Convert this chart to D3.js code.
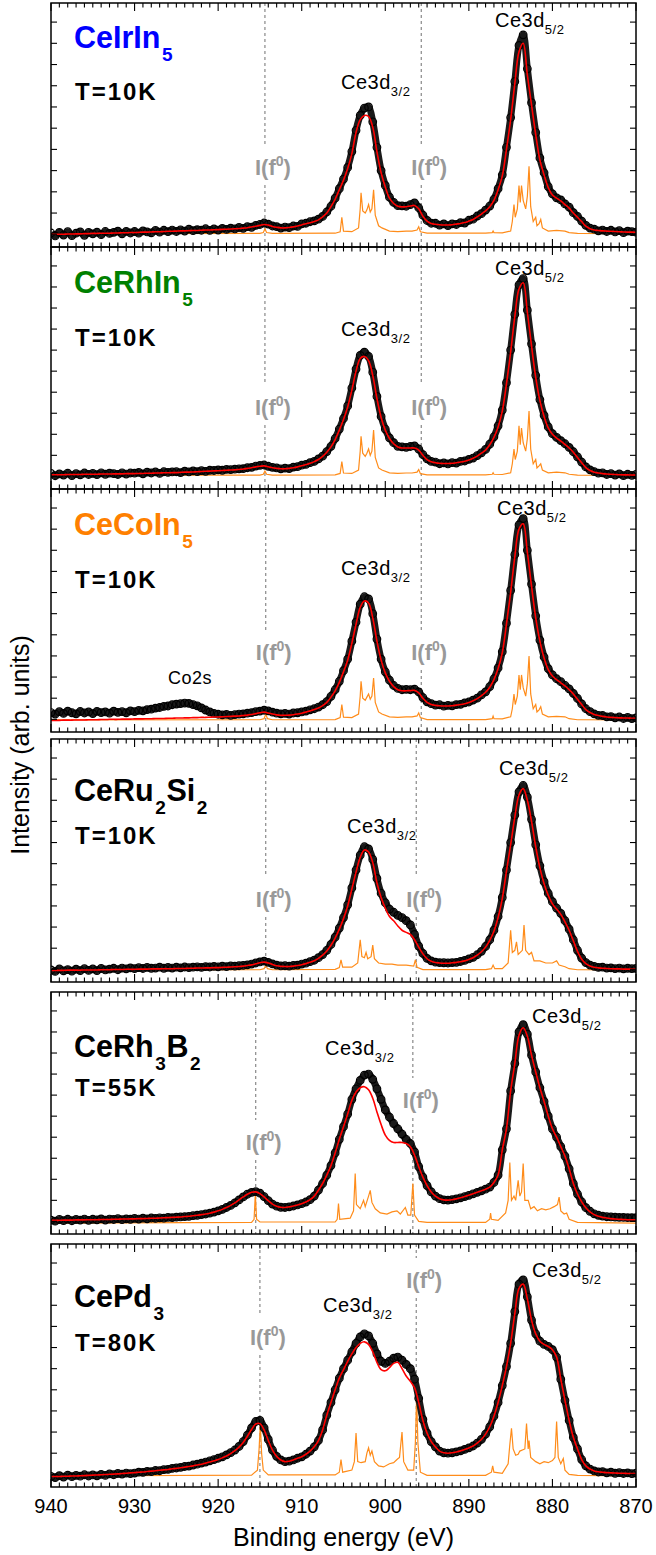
<!DOCTYPE html>
<html><head><meta charset="utf-8">
<script src="https://cdn.jsdelivr.net/npm/d3@7"></script>
<style>body{margin:0;background:#fff}svg{display:block}text{font-family:"Liberation Sans",Arial,sans-serif}</style>
</head><body><div id="chart"></div>
<script>
// ---------------- DATA ----------------
// binding-energy grid of the measured/fitted curves: 940 eV down to 870 eV, 0.5 eV step
const eStart = 940, eStep = 0.5, nPts = 141;
const xTickLabels = [940, 930, 920, 910, 900, 890, 880, 870];

const compounds = ["CeIrIn_5", "CeRhIn_5", "CeCoIn_5", "CeRu_2Si_2", "CeRh_3B_2", "CePd_3"];
const temps = ["T=10K", "T=10K", "T=10K", "T=10K", "T=55K", "T=80K"];
// I(f0) marker energies (eV) per panel [left, right]
const f0Energies = [[914.4, 895.7], [914.4, 895.7], [914.3, 895.7], [914.3, 896.3], [915.5, 896.7], [915.0, 896.3]];

// measured intensities (arb. units), panel by panel
const data1 = [0.6,-0.8,0.9,-0.4,1.2,-0.6,0.5,1.1,-0.5,0.9, 0.2,1.0,-0.2,1.3,0.4,0.9,1.5,0.2,1.4,0.6, 1.3,0.5,1.6,1.1,0.7,1.8,1.0,1.9,1.2,2.0, 1.3,2.1,1.5,2.4,1.7,2.2,1.9,2.6,1.8,2.5, 2.0,2.8,2.3,2.9,2.5,3.2,2.8,3.6,3.3,4.2, 4.6,5.3,4.8,3.9,3.6,2.9,3.4,3.1,3.9,3.7, 4.9,5.2,5.9,6.3,7.1,8.4,10.5,13.2,17,21.5, 26,31.5,39,49,56,59.5,60,53,41,30, 23,17.5,15,13.5,13.4,13.2,14,14.8,12.5,9, 6.5,5.2,5.2,4.3,4.9,4.1,4.9,4.6,5.5,5.3, 6.6,7.1,8.6,9.7,11.4,13.3,16.5,21.5,28,41, 55,72,89,94,78,62,48,36,29,22.5, 19,17.2,16.2,14.3,12.8,10.2,8.4,6.2,4.2,2.9, 2.4,1.6,2.0,1.3,1.9,1.1,1.7,0.8,1.5,1.2, 1.0];
const data2 = [1.4,0.3,1.2,0.6,1.5,0.4,1.3,0.7,1.6,0.9, 1.4,0.8,1.7,1.0,1.5,1.3,0.9,1.7,1.1,1.6, 1.5,1.9,1.2,2.0,1.6,2.1,1.4,2.2,1.9,2.1, 2.2,1.8,2.5,2.1,2.6,2.3,2.7,2.4,2.9,2.8, 3.1,2.9,3.3,3.2,3.4,3.6,3.7,4.1,4.3,4.9, 5.2,5.4,4.8,4.3,4.0,3.6,3.9,3.7,4.4,4.6, 5.3,5.7,6.5,7.1,8.3,9.6,11.8,14.3,18,22.5, 27.5,33.5,42,51,57.5,59,57,49.5,38,28.5, 22.5,18.3,16,14.3,14,13.8,14.2,14.5,13,10.3, 8.3,7.1,6.8,6.0,6.4,5.9,6.5,6.3,7.1,7.3, 8.1,8.7,9.9,11.2,12.8,15.3,18.8,24,31.5,44.5, 60,77,91,94,79,63,48,36.5,29,23.5, 20.3,18.5,17,15.5,13.8,11.7,9.3,6.8,4.5,3.1, 2.3,1.5,1.7,0.9,1.3,0.6,1.2,0.4,1.0,0.5, 0.9];
const data3 = [3.2,2.5,3.6,2.8,3.9,3.1,2.6,3.7,3.0,3.5, 2.7,3.8,3.2,3.5,2.9,3.9,3.3,3.6,3.1,4.0, 3.6,4.2,4.0,4.6,4.8,5.3,5.6,6.1,6.3,6.9, 7.2,7.4,7.7,7.5,7.0,6.4,5.4,4.4,3.5,2.8, 2.4,2.1,2.3,1.9,2.2,2.5,2.6,2.9,3.2,3.6, 3.9,4.3,4.0,3.4,2.9,2.6,2.8,2.5,3.0,3.1, 3.5,3.9,4.5,5.0,5.8,6.9,8.4,10.9,14,18, 23,28.5,37,46,54.5,58,57,50,38,28.5, 22.5,18.5,16,14.6,14,14.2,14.0,14.3,13,10.3, 8.3,7.4,6.7,6.9,6.2,6.6,6.4,7.0,7.1,7.8, 8.2,9.1,10,11.6,13,15.5,19.2,24.3,32,45.5, 61,78,92,95,80,64,49,37.5,29.5,24, 21,19.2,17.8,16.1,14.4,12.3,9.9,7.3,5,3.6, 2.6,1.9,1.8,1.2,1.3,0.7,1.1,0.4,0.9,0.3, 0.7];
const data4 = [-0.3,-1.0,0.2,-0.7,-0.1,-0.9,0.1,-0.6,0.3,-0.5, 0.2,-0.6,0.4,-0.3,0.1,0.5,-0.2,0.6,0.2,0.7, 0.3,0.8,0.4,0.9,0.5,0.6,1.0,0.5,0.9,0.6, 1.0,0.7,1.1,0.8,1.0,1.2,0.9,1.3,1.1,1.4, 1.2,1.5,1.3,1.6,1.5,1.7,1.9,2.1,2.5,3.0, 3.5,3.9,3.3,2.6,2.0,1.6,1.7,1.5,1.9,2.0, 2.5,2.9,3.6,4.3,5.5,7,9,11.8,15.2,19.5, 24.5,30.5,38.5,47,54,58,57,52,43,36, 31.5,28.5,27,25.5,24.5,23,21,16.5,11,7.5, 5.2,4.0,3.4,3.2,3.1,3.0,3.2,3.3,3.7,4.2, 4.9,5.7,6.9,8.5,10.8,14,18.5,25,34,47, 60,73,84,87,81.5,71,59,49,41.5,36, 32,29,26.5,23,19,14,9,5.3,3.2,2.0, 1.4,0.9,1.0,0.6,0.7,0.3,0.6,0.2,0.5,0.3, 0.4];
const data5 = [0.6,0.1,0.9,0.4,1.0,0.3,0.9,0.6,1.1,0.5, 1.0,0.7,1.2,0.6,1.1,0.9,1.3,0.8,1.2,1.0, 1.4,1.1,1.5,1.2,1.6,1.4,1.7,1.5,1.9,1.8, 2.0,2.1,2.3,2.4,2.7,2.9,3.2,3.5,3.9,4.4, 5.0,5.7,6.6,7.6,8.8,10.2,11.6,12.9,13.8,14.1, 13.4,11.8,9.9,8.2,7.2,6.7,6.6,6.9,7.3,7.8, 8.4,9.2,10.3,12,14.8,18,22,26.5,32.5,39, 45,51,58,63,67,69.5,70,67.5,63,58, 53,49.5,46.5,44,41.5,39,37,33,26,21, 17,14,12,10.8,10.2,10.1,10.3,10.7,11.2,11.8, 12.4,13.1,13.8,14.5,15.3,16.3,18.5,22,34,44, 62,75,90,93.5,89,79,71,63.5,57,50, 44,40,35.5,31,25,18,13,9.3,6.5,4.8, 3.6,2.9,2.5,2.2,2.1,2.0,1.9,1.9,1.8,1.8, 1.8];
const data6 = [-1.0,-1.6,-0.6,-1.3,-0.4,-1.1,-0.5,-0.9,-0.2,-0.8, -0.3,-0.7,0.0,-0.5,0.2,-0.2,0.4,0.1,0.6,0.3, 0.6,1.0,0.9,1.4,1.3,1.8,1.7,2.2,2.3,2.8, 3.0,3.3,3.7,3.9,4.4,4.8,5.3,5.8,6.4,7.0, 7.6,8.3,9.2,10.3,11.5,13.2,15.5,18.5,22,25, 25.5,22,16.5,11.5,8.5,6.8,6.0,6.2,6.8,7.6, 8.3,9.5,11,13,16,21,28,34,40,45.5, 50,54,58,62,65,66.5,65.5,62,57,53.5, 52.5,53.5,55,55.5,54,52,50,45,36,26, 19.5,15.5,13,11,10.2,10,10.2,10.6,11.1,11.8, 12.5,13.4,14.8,16.5,19,22.5,27.5,34,42,51, 62,77,90,92,84,73,66.5,63,61.5,60.5, 59,55.5,45,35,25.5,17.5,12,7,4,2.5, 1.6,1.1,1.3,0.7,1.0,0.5,0.8,0.4,0.7,0.3, 0.6];

// fitted spectra (red)
const fit1 = [0,0,0,0,0.1,0.1,0.2,0.2,0.3,0.3, 0.4,0.4,0.5,0.5,0.5,0.6,0.6,0.7,0.7,0.8, 0.8,0.9,1.0,1.0,1.1,1.2,1.2,1.3,1.4,1.4, 1.5,1.6,1.6,1.7,1.8,1.8,1.9,2.0,2.0,2.1, 2.2,2.3,2.4,2.5,2.6,2.7,2.9,3.1,3.4,3.8, 4.2,4.6,4.3,3.7,3.3,3.0,3.0,3.2,3.5,3.9, 4.4,5.0,5.4,6.0,6.8,8.2,10,13,16.5,21, 25.5,31,38,48,54,56,55.5,50.5,39,29, 22.3,17,14.5,13.2,12.9,13,13.3,13.6,12,8.5, 6.2,5.1,4.7,4.5,4.4,4.4,4.5,4.8,5.1,5.5, 6.2,7.0,8.2,9.5,11,13,16,21,27.5,40, 54,71,86,90,75,61,47,35,28,22, 18.5,17,15.7,14,12.3,10,8,6,3.8,2.6, 2.0,1.8,1.6,1.5,1.4,1.3,1.2,1.1,1.0,1.0, 0.9];
const fit2 = [0.8,0.8,0.8,0.8,0.9,0.9,0.9,0.9,1.0,1.0, 1.0,1.0,1.1,1.1,1.1,1.2,1.2,1.2,1.3,1.3, 1.3,1.4,1.4,1.5,1.5,1.6,1.6,1.7,1.7,1.8, 1.8,1.9,2.0,2.0,2.1,2.2,2.3,2.4,2.5,2.6, 2.7,2.8,2.9,3.0,3.1,3.3,3.5,3.8,4.1,4.5, 4.8,5.0,4.6,4.1,3.8,3.6,3.6,3.8,4.1,4.5, 5.0,5.6,6.2,7.0,8.0,9.5,11.5,14,17.5,22, 27,33,41,50,56,57,55,48,37,28, 22,18,15.5,14,13.5,13.5,13.5,13.5,12.5,10, 8,7,6.5,6.2,6.1,6.1,6.2,6.5,6.8,7.2, 7.8,8.6,9.6,11,12.5,15,18.5,23.5,31,44, 59,76,89,92,78,62,47,36,28.5,23, 20,18.2,16.8,15.2,13.5,11.5,9,6.5,4.2,2.8, 2.0,1.6,1.3,1.1,1.0,0.9,0.8,0.7,0.7,0.6, 0.6];
const fit3 = [-0.5,-0.5,-0.5,-0.4,-0.4,-0.4,-0.3,-0.3,-0.3,-0.2, -0.2,-0.2,-0.1,-0.1,0,0,0,0.1,0.1,0.1, 0.2,0.2,0.2,0.3,0.3,0.4,0.4,0.4,0.5,0.5, 0.6,0.6,0.7,0.7,0.8,0.8,0.9,0.9,1.0,1.1, 1.1,1.2,1.3,1.4,1.5,1.6,1.8,2.0,2.3,2.7, 3.1,3.4,3.0,2.5,2.1,1.9,1.9,2.0,2.2,2.5, 2.9,3.4,4.0,4.6,5.4,6.5,8,10.5,13.5,17.5, 22.5,28,36,45,53,56,55,48,37,28, 22,18,15.5,14,13.5,13.5,13.6,13.7,12.5,10, 8,7,6.6,6.4,6.3,6.3,6.4,6.7,7.0,7.4, 8,8.8,9.8,11.2,12.8,15.2,18.8,24,31.5,45, 60,77,90,92.5,79,63,48,37,29,23.5, 20.5,18.8,17.3,15.8,14,12,9.5,7,4.6,3.2, 2.3,1.8,1.4,1.1,0.9,0.8,0.7,0.6,0.6,0.5, 0.5];
const fit4 = [-0.5,-0.5,-0.5,-0.5,-0.4,-0.4,-0.4,-0.4,-0.3,-0.3, -0.3,-0.3,-0.2,-0.2,-0.2,-0.1,-0.1,-0.1,0,0, 0,0.1,0.1,0.1,0.2,0.2,0.2,0.3,0.3,0.3, 0.4,0.4,0.4,0.5,0.5,0.6,0.6,0.7,0.7,0.8, 0.8,0.9,1.0,1.1,1.2,1.3,1.5,1.8,2.1,2.6, 3.1,3.4,3.0,2.3,1.7,1.4,1.3,1.3,1.5,1.8, 2.2,2.7,3.3,4.1,5.2,6.7,8.7,11.4,14.8,19, 24,30,38,46,53,56.5,55.5,50.5,41,34, 29,25,23,20.5,18.5,17.5,16.5,14,10.5,7.3, 5,3.8,3.2,3.0,2.9,2.9,3.1,3.3,3.6,4.0, 4.7,5.5,6.7,8.3,10.5,13.7,18,24.5,33.5,46.5, 59,72,82.5,85.5,80,70,58,48,40.5,35, 31,28.5,26,22.5,18.5,13.5,8.5,4.8,2.7,1.6, 1.0,0.7,0.5,0.4,0.3,0.2,0.2,0.1,0.1,0.1, 0.1];
const fit5 = [0.5,0.5,0.5,0.6,0.6,0.6,0.7,0.7,0.7,0.8, 0.8,0.8,0.9,0.9,0.9,1.0,1.0,1.1,1.1,1.2, 1.2,1.3,1.3,1.4,1.5,1.5,1.6,1.7,1.8,1.9, 2.0,2.1,2.3,2.4,2.7,2.9,3.2,3.5,3.9,4.4, 5.0,5.7,6.6,7.6,8.8,10.2,11.6,12.9,13.8,14.0, 13.2,11.6,9.8,8.2,7.2,6.7,6.6,6.9,7.3,7.8, 8.4,9.2,10.3,12,14.8,18,22,26.5,32.5,39, 45,51,57.5,61.5,63.5,64,62.5,58.5,52,46, 41,38.5,37.5,37.5,37.5,37,35.5,31.5,26,21, 17,14,12,10.8,10.2,10.1,10.3,10.7,11.2,11.8, 12.4,13.1,13.8,14.5,15.3,16.3,18.5,22,34,44, 62,75,88.5,92,88,79,71,63.5,57,50, 44,40,35.5,31,25,18,13,9.3,6.5,4.5, 3.2,2.4,1.9,1.6,1.3,1.1,1.0,0.9,0.8,0.8, 0.8];
const fit6 = [-1.0,-1.0,-1.0,-0.9,-0.9,-0.8,-0.8,-0.7,-0.6,-0.5, -0.4,-0.3,-0.2,-0.1,0.0,0.1,0.2,0.4,0.5,0.7, 0.8,1.0,1.1,1.3,1.5,1.7,1.9,2.1,2.3,2.6, 2.8,3.1,3.4,3.7,4.0,4.4,4.8,5.3,5.8,6.4, 7.0,7.8,8.7,9.8,11.2,12.9,15.1,18,21.2,23.8, 24,21,16,11.5,8.5,6.8,6.0,6.2,6.8,7.6, 8.3,9.5,11,13,16,21,28,34,40,45.5, 49.5,53.5,57,60,62,62.7,61.5,58,53,49.5, 49,50.5,52.5,53,50,46.5,44,41,34,25.5, 19.5,15.5,13,11,10.2,10,10.2,10.6,11.1,11.8, 12.5,13.4,14.8,16.5,19,22.5,27.5,34,42,51, 62,76,88,90,83,73,66.5,63,61.5,60.5, 59,55.5,45,35,25.5,17.5,12,7,4,2.5, 1.6,1.2,1.0,0.8,0.7,0.6,0.5,0.5,0.4,0.4, 0.4];

// calculated multiplet spectra (orange): [binding energy, intensity]
const multi1 = [[940,0.3],[915,0.4],[914.6,0.8],[914.4,2.5],[914.2,0.8],[913.5,0.4],[906,0.5],[905.4,1.2],[905.2,8],[905.0,1.5],[904,1.2],[903.2,3],[903.0,12],[902.9,19.5],[902.7,11],[902.4,10],[902.2,11.5],[902.0,14],[901.8,10.5],[901.6,12],[901.4,21],[901.2,9],[900.8,4],[900.4,3],[899.5,1.5],[898.5,1.2],[897.5,1.5],[896.8,1.5],[896.2,2],[896.0,3.5],[895.8,1.2],[895,0.5],[888,0.5],[887.2,0.8],[887.1,1.5],[887.0,0.8],[886,0.7],[885,1.5],[884.8,6],[884.6,14],[884.45,8],[884.2,12],[884.0,23],[883.85,15],[883.7,23],[883.5,16],[883.2,12],[883.0,18],[882.8,32],[882.6,13],[882.3,6],[882.0,8],[881.85,4],[881.6,5],[881.4,7],[881.2,3],[880.5,1.5],[879.5,1.8],[878.5,1.5],[878,0.8],[877,0.4],[870,0.3]];
const multi2 = [[940,0.6],[915,0.6],[914.6,1.0],[914.4,2.5],[914.2,1.0],[913.5,0.6],[906,0.7],[905.4,1.4],[905.2,7],[905.0,1.6],[904,1.4],[903.2,3],[903.0,12],[902.9,19],[902.7,11],[902.4,9.5],[902.2,11],[902.0,13],[901.8,10],[901.6,12],[901.4,22],[901.2,9],[900.8,4],[900.4,3],[899.5,1.7],[898.5,1.4],[897.5,1.6],[896.8,1.6],[896.2,2],[896.0,3.2],[895.8,1.3],[895,0.7],[888,0.7],[887.2,1.0],[887.1,1.7],[887.0,1.0],[886,0.9],[885,1.7],[884.8,6],[884.6,13],[884.45,8],[884.2,12],[884.0,24],[883.85,15],[883.7,23],[883.5,16],[883.2,12],[883.0,18],[882.8,31],[882.6,13],[882.3,6],[882.0,8],[881.85,4],[881.6,5],[881.4,6],[881.2,3],[880.5,1.7],[879.5,2],[878.5,1.7],[878,1.0],[877,0.6],[870,0.5]];
const multi3 = [[940,-0.3],[915,-0.2],[914.5,0.3],[914.3,2.5],[914.1,0.3],[913.5,-0.2],[906,-0.1],[905.4,0.8],[905.2,7],[905.0,1.0],[904,0.8],[903.2,2.5],[903.0,11],[902.9,18],[902.7,10],[902.4,9],[902.2,10.5],[902.0,12],[901.8,9.5],[901.6,11],[901.4,19.5],[901.2,8],[900.8,3.5],[900.4,2.5],[899.5,1.2],[898.5,0.9],[897.5,1.2],[896.8,1.2],[896.2,1.6],[896.0,3],[895.8,0.8],[895,-0.1],[888,-0.1],[887.2,0.3],[887.1,1.5],[887.0,0.3],[886,0.2],[885,1.2],[884.8,5],[884.6,12],[884.45,7],[884.2,11],[884.0,21],[883.85,14],[883.7,21],[883.5,15],[883.2,11],[883.0,17],[882.8,30],[882.6,12],[882.3,5],[882.0,7],[881.85,3.5],[881.6,4.5],[881.4,6],[881.2,2.5],[880.5,1.2],[879.5,1.4],[878.5,1.2],[878,0.3],[877,-0.2],[870,-0.3]];
const multi4 = [[940,-0.3],[915,-0.2],[914.5,0.3],[914.3,2],[914.1,0.3],[913.5,-0.2],[906,0],[905.5,0.8],[905.3,4.5],[905.1,1.0],[904,1.0],[903.3,3],[903.0,14],[902.8,6],[902.5,5.5],[902.3,8],[902.1,5],[901.7,6],[901.5,11.5],[901.3,5],[900.8,3],[900,2.5],[899.2,2.5],[898.5,2],[897.5,2],[896.6,1.5],[896.4,4.5],[896.2,1],[895.5,-0.1],[888,-0.1],[887.3,0.3],[887.1,2],[886.9,0.3],[886,0.3],[885.3,3],[885.0,18.5],[884.8,8],[884.5,9],[884.3,13],[884.1,7],[883.6,9],[883.4,21],[883.2,9],[882.8,7],[882.5,8],[882.2,4],[881.5,4],[880.8,3],[880.0,3],[879.5,4],[879.2,2],[878.5,1.2],[878,0.3],[877,-0.2],[870,-0.3]];
const multi5 = [[940,-0.8],[916.0,-0.5],[915.7,1],[915.55,13],[915.4,1],[915,-0.3],[906,-0.3],[905.75,1],[905.6,8.5],[905.45,1],[904.2,1.5],[903.8,5],[903.6,22.7],[903.45,8],[903.0,6],[902.6,10],[902.4,7],[902.0,12],[901.8,14.7],[901.6,9],[901.2,6],[900.6,4],[899.8,3.5],[899.2,4.5],[898.6,5],[898.2,3.5],[897.6,6.6],[897.3,3],[896.95,3],[896.7,18],[896.5,3],[896,0],[895,-0.5],[888,-0.5],[887.5,1],[887.4,4],[887.3,1],[886.5,0.5],[885.6,4],[885.3,10],[885.1,28],[884.9,10],[884.6,12],[884.4,10],[884.1,19.5],[883.9,12],[883.7,14],[883.5,27.5],[883.3,10],[882.9,10],[882.6,6],[882.2,7],[881.8,5],[881.3,6],[880.8,5.5],[880.3,6],[879.8,7],[879.4,8],[879.2,11.5],[879.0,5],[878.6,3.5],[878.3,4],[878.0,1],[877,-0.5],[870,-0.8]];
const multi6 = [[940,-0.8],[916,-0.4],[915.3,2],[915.1,12],[914.95,24],[914.8,10],[914.6,2],[914,-0.3],[906,-0.3],[905.5,1],[905.3,7],[905.1,1],[904,2],[903.7,6],[903.5,19.5],[903.3,6],[902.9,5.5],[902.4,6],[902.2,10],[902.0,12.5],[901.8,9],[901.6,11],[901.3,6],[900.8,4],[900.2,3.5],[899.5,5],[899,5.5],[898.6,7],[898.3,8],[898.0,20],[897.8,6],[897.3,2],[896.6,2],[896.4,15],[896.25,37],[896.1,15],[895.8,1],[895,-0.5],[888,-0.5],[887.3,1],[887.15,4],[887.0,1],[886,0.5],[885.3,5],[885.1,14],[884.9,21.8],[884.7,12],[884.4,9],[884.1,9.5],[883.9,11],[883.3,12],[883.1,24],[882.9,12],[882.8,16],[882.6,8],[882.0,6],[881.5,5],[881.0,6],[880.5,5.5],[880.0,6.5],[879.7,8],[879.5,25],[879.3,8],[879,5],[878.7,7.5],[878.5,2],[878,0],[877,-0.5],[870,-0.8]];

const measured = [data1, data2, data3, data4, data5, data6];
const fits = [fit1, fit2, fit3, fit4, fit5, fit6];
const multiplets = [multi1, multi2, multi3, multi4, multi5, multi6];

// ---------------- LAYOUT / STYLE ----------------
const W = 656, H = 1555;
const plotLeft = 51, plotRight = 636;
const panelTops = [3, 247, 489, 739, 992, 1244];
const panelHeights = [244, 242, 243, 243, 242, 243];
const nameColors = ["#0000ff", "#008000", "#ff8000", "#000", "#000", "#000"];
const nameBase = [45, 46, 46, 62, 65, 63];
const tempBase = [97, 99, 99, 105, 104, 107];
const d32Pos = [[341, 86], [341, 89], [341, 86], [347, 94], [325, 63], [323, 68]];
const d52Pos = [[495, 24], [495, 28], [497, 26], [499, 36], [532, 31], [532, 33]];
const f0Base = [[172, 172], [168, 168], [171, 171], [168, 168], [158, 116], [101, 44]];
const yDomain = [-6, 109];
const yTicks = d3.range(0, 101, 10);

const svg = d3.select("#chart").append("svg").attr("width", W).attr("height", H);
const x = d3.scaleLinear().domain([eStart, eStart - eStep * (nPts - 1)]).range([plotLeft, plotRight]);
const energyAt = i => eStart - eStep * i;

function rich(g, px, py, str, o) {
  const t = g.append("text").attr("x", px).attr("y", py)
    .style("font-size", o.size + "px").style("font-weight", o.bold ? "bold" : "normal")
    .attr("fill", o.color || "#000");
  if (o.ls) t.style("letter-spacing", o.ls + "px");
  if (o.anchor) t.attr("text-anchor", o.anchor);
  const toks = str.match(/_\{[^}]*\}|\^\{[^}]*\}|_.|\^.|[^_^]+/g);
  let shift = 0, prevSmall = false;
  toks.forEach(tok => {
    let kind = "n", txt = tok;
    if (tok[0] === "_" || tok[0] === "^") { kind = tok[0] === "_" ? "sub" : "sup"; txt = tok.slice(1).replace(/[{}]/g, ""); }
    const target = kind === "sub" ? o.subDy : kind === "sup" ? -o.supDy : 0;
    const ts = t.append("tspan").attr("dy", target - shift).text(txt);
    if (kind !== "n") { ts.style("font-size", o.small + "px"); if (o.subDx) ts.attr("dx", o.subDx); }
    else if (prevSmall && o.subDx) ts.attr("dx", o.subDx * 0.5);
    prevSmall = kind !== "n";
    shift = target;
  });
  return t;
}

const minorTicks = d3.range(870, 941, 1);

for (let p = 0; p < 6; p++) {
  const top = panelTops[p], h = panelHeights[p], bottom = top + h;
  const y = d3.scaleLinear().domain(yDomain).range([bottom, top]);
  const g = svg.append("g");
  const clipId = "clip" + p;
  svg.append("clipPath").attr("id", clipId).append("rect")
    .attr("x", plotLeft).attr("y", top).attr("width", plotRight - plotLeft).attr("height", h);
  const pg = g.append("g").attr("clip-path", `url(#${clipId})`);

  // I(f0) dashed markers, interrupted by their labels
  f0Energies[p].forEach((e, k) => {
    const lx = x(e), lb = top + f0Base[p][k];
    [[top, lb - 30], [lb + 10, bottom]].forEach(([a, b]) => {
      if (b > a) pg.append("line").attr("x1", lx).attr("x2", lx).attr("y1", a).attr("y2", b)
        .attr("stroke", "#707070").attr("stroke-width", 1).attr("stroke-dasharray", "3,3");
    });
  });

  // multiplet (orange)
  pg.append("path").datum(multiplets[p])
    .attr("d", d3.line().x(d => x(d[0])).y(d => y(d[1])))
    .attr("fill", "none").attr("stroke", "#ff8c1a").attr("stroke-width", 1.2);

  // measured data: dense open circles
  const meas = measured[p];
  pg.append("path").datum(meas)
    .attr("d", d3.line().x((d, i) => x(energyAt(i))).y(d => y(d)).curve(d3.curveCatmullRom))
    .attr("fill", "none").attr("stroke", "#1a1a1a").attr("stroke-width", 7).attr("stroke-linejoin", "round");
  pg.append("g").selectAll("circle").data(meas).join("circle")
    .attr("cx", (d, i) => x(energyAt(i))).attr("cy", d => y(d)).attr("r", 3.8)
    .attr("fill", "none").attr("stroke", "#000").attr("stroke-width", 1.2);

  // fit (red)
  pg.append("path").datum(fits[p])
    .attr("d", d3.line().x((d, i) => x(energyAt(i))).y(d => y(d)).curve(d3.curveCatmullRom))
    .attr("fill", "none").attr("stroke", "#ff0000").attr("stroke-width", 1.6);

  // frame
  g.append("rect").attr("x", plotLeft).attr("y", top).attr("width", plotRight - plotLeft).attr("height", h)
    .attr("fill", "none").attr("stroke", "#000").attr("stroke-width", 1.5);
  // x ticks (inward, top and bottom)
  minorTicks.forEach(e => {
    const len = e % 10 === 0 ? 8 : 4.5;
    g.append("line").attr("x1", x(e)).attr("x2", x(e)).attr("y1", bottom).attr("y2", bottom - len).attr("stroke", "#000").attr("stroke-width", 1.1);
    g.append("line").attr("x1", x(e)).attr("x2", x(e)).attr("y1", top).attr("y2", top + len).attr("stroke", "#000").attr("stroke-width", 1.1);
  });
  // y ticks (inward, left and right)
  yTicks.forEach(v => {
    g.append("line").attr("x1", plotLeft).attr("x2", plotLeft + 6).attr("y1", y(v)).attr("y2", y(v)).attr("stroke", "#000").attr("stroke-width", 1.1);
    g.append("line").attr("x1", plotRight).attr("x2", plotRight - 6).attr("y1", y(v)).attr("y2", y(v)).attr("stroke", "#000").attr("stroke-width", 1.1);
  });

  // labels
  rich(g, 74, top + nameBase[p], compounds[p], { size: 30.5, bold: true, color: nameColors[p], small: 19, subDy: 13, supDy: 10, subDx: 1.5 });
  rich(g, 75, top + tempBase[p], temps[p], { size: 24, bold: true, ls: 2, small: 16, subDy: 6, supDy: 6 });
  rich(g, d32Pos[p][0], top + d32Pos[p][1], "Ce3d_{3/2}", { size: 20, ls: 0.5, small: 13, subDy: 7, supDy: 7 });
  rich(g, d52Pos[p][0], top + d52Pos[p][1], "Ce3d_{5/2}", { size: 20, ls: 0.5, small: 13, subDy: 7, supDy: 7 });
  f0Energies[p].forEach((e, k) => {
    rich(g, x(e) - 10, top + f0Base[p][k], "I(f^0)", { size: 22, bold: true, color: "#999999", small: 14, subDy: 8, supDy: 9 });
  });
  if (p === 2) rich(g, 168, top + 195, "Co2s", { size: 18, ls: 0.5, small: 12, subDy: 5, supDy: 5 });

  if (p === 5) {
    xTickLabels.forEach(e => {
      g.append("text").attr("x", x(e)).attr("y", bottom + 26).attr("text-anchor", "middle")
        .style("font-size", "20px").text(e);
    });
  }
}

svg.append("text").attr("x", 343.5).attr("y", 1546).attr("text-anchor", "middle")
  .style("font-size", "25px").text("Binding energy (eV)");
svg.append("text").attr("transform", "translate(29,745) rotate(-90)").attr("text-anchor", "middle")
  .style("font-size", "25px").text("Intensity (arb. units)");
</script>
</body></html>
